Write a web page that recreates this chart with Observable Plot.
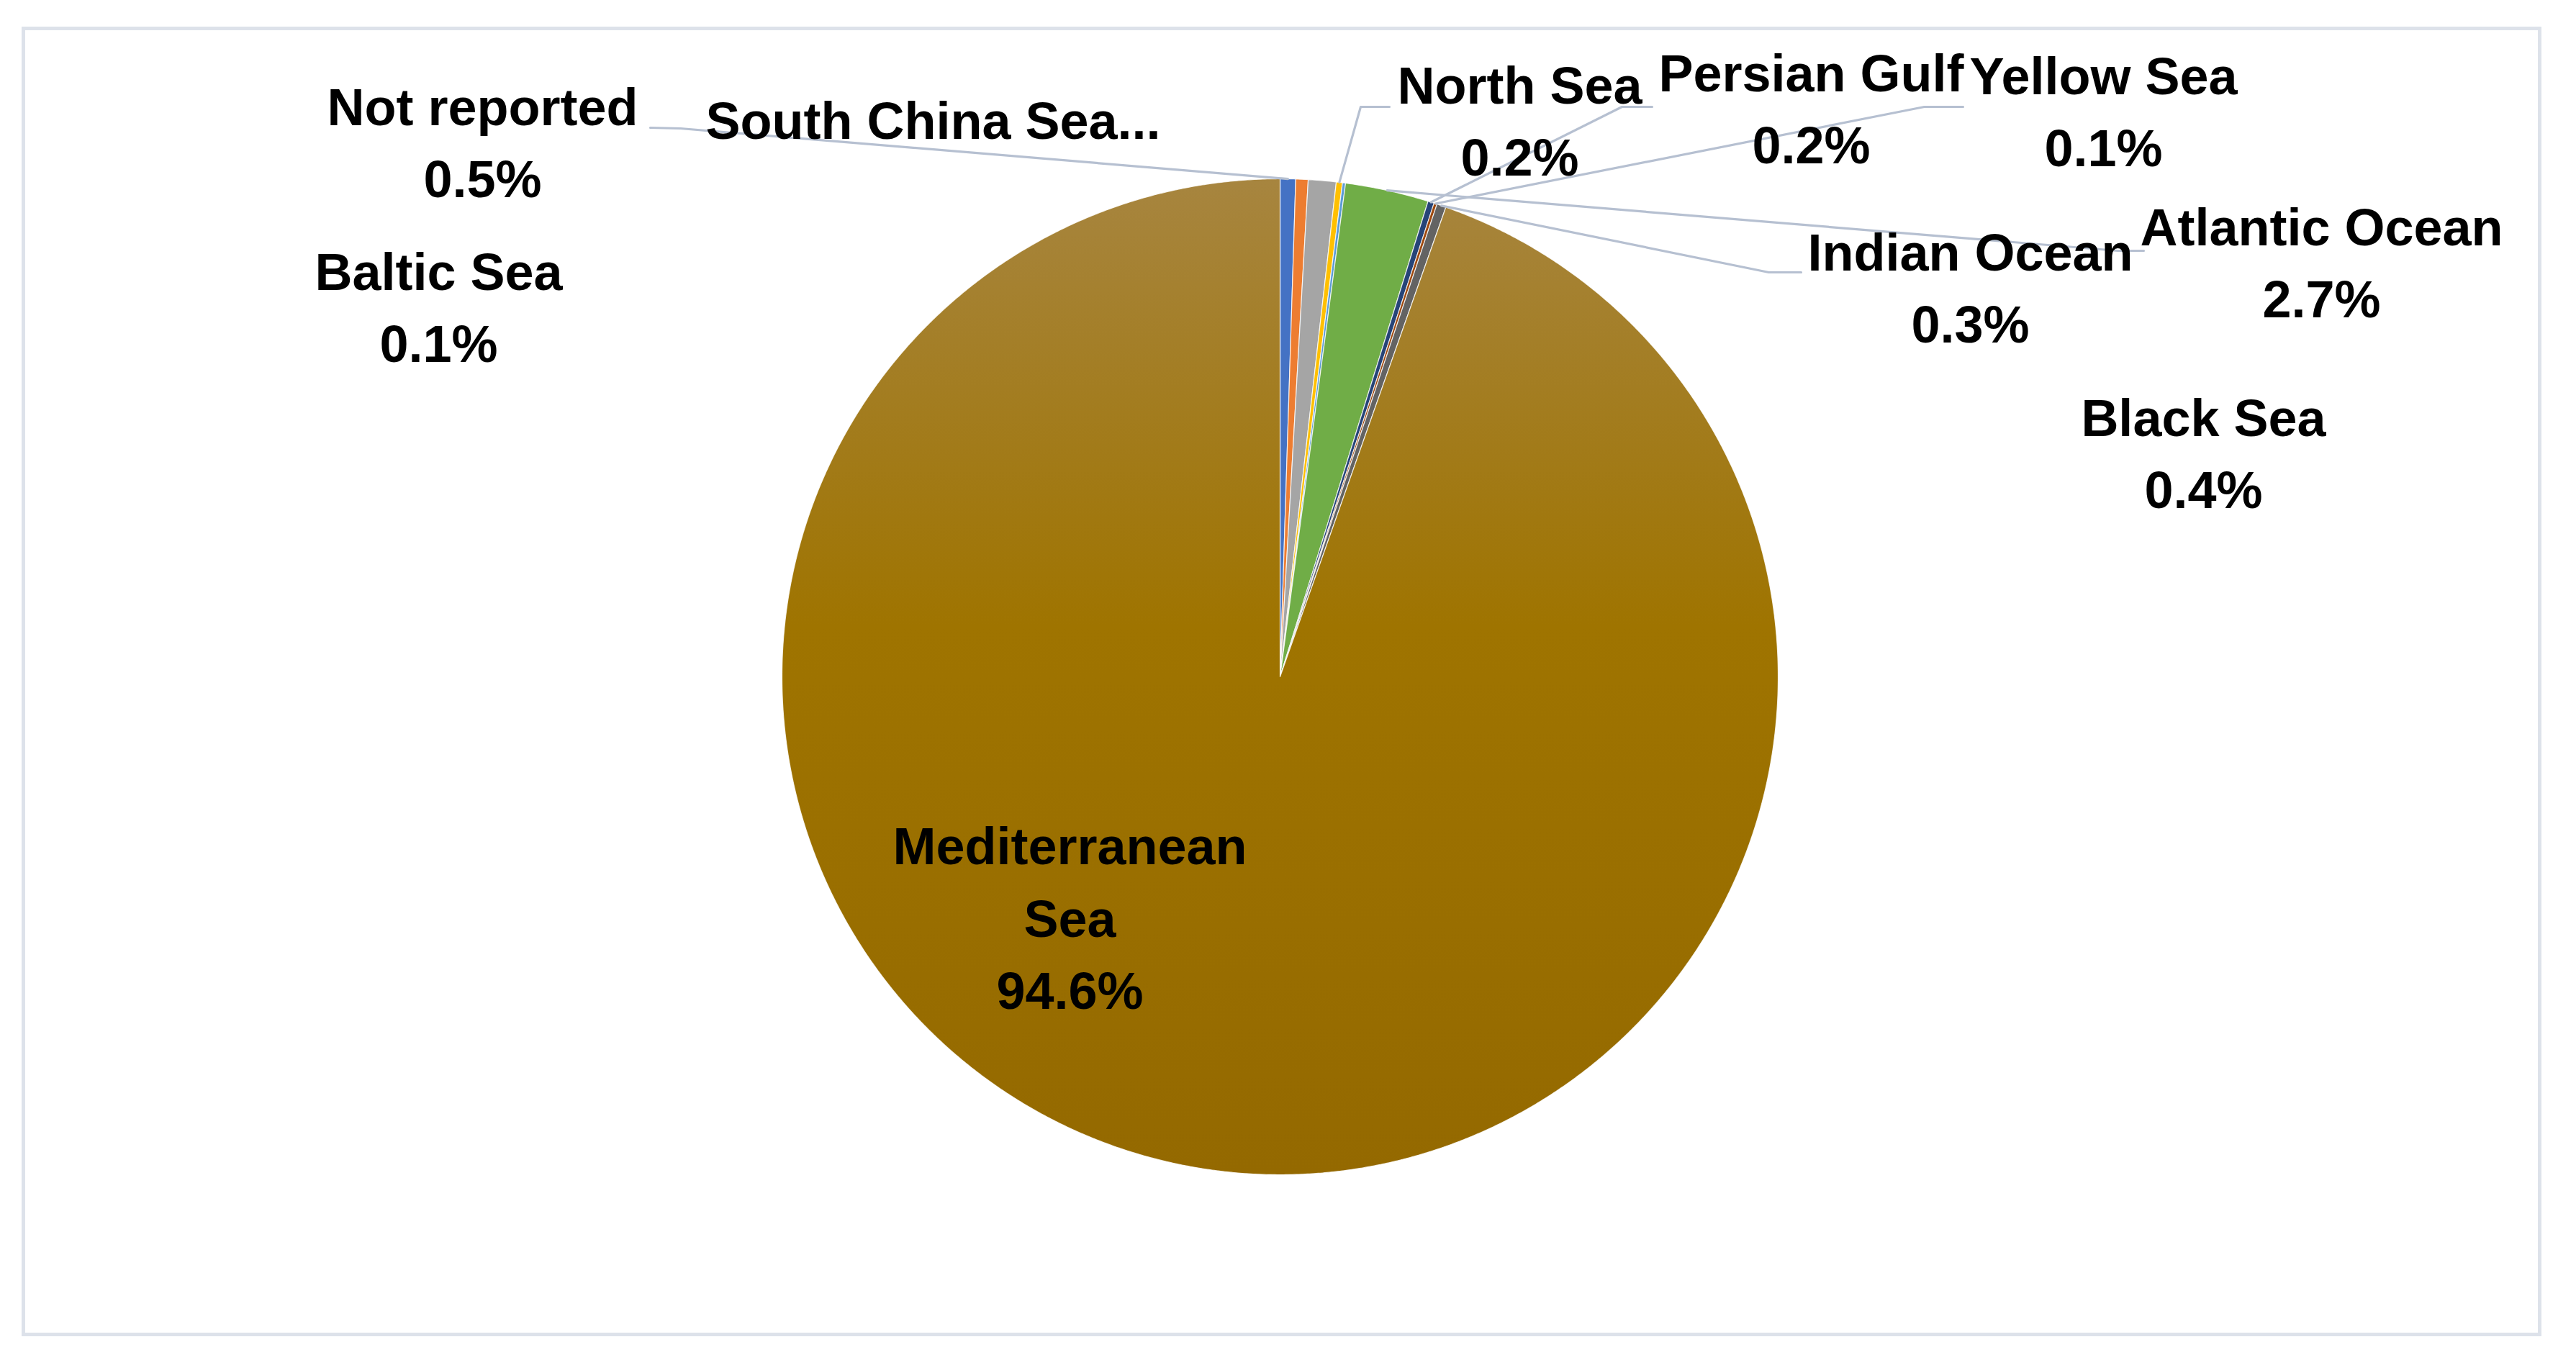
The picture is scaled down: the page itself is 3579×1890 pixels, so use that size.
<!DOCTYPE html>
<html>
<head>
<meta charset="utf-8">
<script src="https://cdn.jsdelivr.net/npm/d3@7"></script>
<script src="https://cdn.jsdelivr.net/npm/@observablehq/plot@0.6"></script>
<style>
  html, body { margin: 0; padding: 0; background: #ffffff; overflow: hidden; }
  #chart svg { display: block; }
</style>
</head>
<body>
<div id="chart"></div>
<script>
// ---- data ----
const categories = ["Not reported", "Black Sea", "South China Sea", "North Sea", "Baltic Sea",
                    "Atlantic Ocean", "Persian Gulf", "Yellow Sea", "Indian Ocean", "Mediterranean Sea"];
const shares = [0.5, 0.4, 0.9, 0.2, 0.1, 2.7, 0.2, 0.1, 0.3, 94.6];
const sliceColors = ["#4472C4", "#ED7D31", "#A5A5A5", "#FFC000", "#5B9BD5",
                     "#70AD47", "#264478", "#9E480E", "#636363", "url(#medGrad)"];

// ---- layout (label placement, leader stubs) ----
const labelLayout = [
  {name: "Not reported",      x: 670,  y: 191,  stub: [[903, 177], [945, 178]]},
  {name: "Black Sea",         x: 3061, y: 623,  stub: null},
  {name: "South China Sea",   x: 1296, y: 160,  stub: null, truncate: true},
  {name: "North Sea",         x: 2111, y: 161,  stub: [[1930, 148], [1890, 148]]},
  {name: "Baltic Sea",        x: 609,  y: 420,  stub: null},
  {name: "Atlantic Ocean",    x: 3225, y: 358,  stub: [[2978, 348], [2942, 348]]},
  {name: "Persian Gulf",      x: 2516, y: 144,  stub: [[2295, 148], [2253, 148]]},
  {name: "Yellow Sea",        x: 2922, y: 148,  stub: [[2727, 148], [2673, 148]]},
  {name: "Indian Ocean",      x: 2737, y: 393,  stub: [[2502, 378], [2457, 378]]},
  {name: "Mediterranean Sea", x: 1486, y: 1269, stub: null, wrap: true}
];

const W = 3579, H = 1890;
const cx = 1778, cy = 940, R = 692;

const data = categories.map((name, i) => ({name, value: shares[i], fill: sliceColors[i]}));
const arcs = d3.pie().sort(null).value(d => d.value).startAngle(0).endAngle(2 * Math.PI)(data);

// slice polygons
const slicePts = [];
arcs.forEach(a => {
  const name = a.data.name, fill = a.data.fill;
  slicePts.push({name, fill, x: cx, y: cy});
  const n = Math.max(2, Math.ceil((a.endAngle - a.startAngle) / (Math.PI / 720)));
  for (let k = 0; k <= n; k++) {
    const t = a.startAngle + (a.endAngle - a.startAngle) * k / n;
    slicePts.push({name, fill, x: cx + R * Math.sin(t), y: cy - R * Math.cos(t)});
  }
  slicePts.push({name, fill, x: cx, y: cy});
});

// labels & leader lines
const labels = [];
const leaderPts = [];
labelLayout.forEach(L => {
  const a = arcs.find(d => d.data.name === L.name);
  let text;
  if (L.truncate) text = L.name + "...";
  else if (L.wrap) text = L.name.replace(" ", "\n") + "\n" + a.data.value.toFixed(1) + "%";
  else text = L.name + "\n" + a.data.value.toFixed(1) + "%";
  labels.push({x: L.x, y: L.y, text});
  if (L.stub) {
    const mid = (a.startAngle + a.endAngle) / 2;
    L.stub.forEach(p => leaderPts.push({name: L.name, x: p[0], y: p[1]}));
    leaderPts.push({name: L.name, x: cx + R * Math.sin(mid), y: cy - R * Math.cos(mid)});
  }
});

const chart = Plot.plot({
  width: W,
  height: H,
  marginLeft: 32,
  marginTop: 39,
  marginRight: W - 3528,
  marginBottom: H - 1854,
  x: {domain: [0, W], range: [0, W], axis: null},
  y: {domain: [0, H], range: [0, H], axis: null},
  color: {type: "identity"},
  style: {background: "#ffffff", fontFamily: "'Liberation Sans', Arial, sans-serif"},
  marks: [
    Plot.frame({stroke: "#dde2ea", strokeWidth: 5}),
    Plot.line(slicePts, {x: "x", y: "y", z: "name", fill: "fill", stroke: "#ffffff", strokeWidth: 1.2, strokeOpacity: 0.8, curve: "linear"}),
    Plot.line(leaderPts, {x: "x", y: "y", z: "name", stroke: "#b6c0d1", strokeWidth: 3.2, curve: "linear"}),
    Plot.text(labels, {x: "x", y: "y", text: "text", fontSize: 72, fontWeight: "bold",
                       fontFamily: "'Liberation Sans', Arial, sans-serif",
                       lineHeight: 1.39, fill: "#000000", textAnchor: "middle"})
  ]
});

const svg = d3.select(chart);
const defs = svg.insert("defs", ":first-child");
const grad = defs.append("linearGradient").attr("id", "medGrad")
  .attr("x1", 0).attr("y1", 0).attr("x2", 0).attr("y2", 1);
grad.append("stop").attr("offset", "0%").attr("stop-color", "#a7853f");
grad.append("stop").attr("offset", "45%").attr("stop-color", "#9f7400");
grad.append("stop").attr("offset", "100%").attr("stop-color", "#946900");

document.getElementById("chart").appendChild(chart);
</script>
</body>
</html>
